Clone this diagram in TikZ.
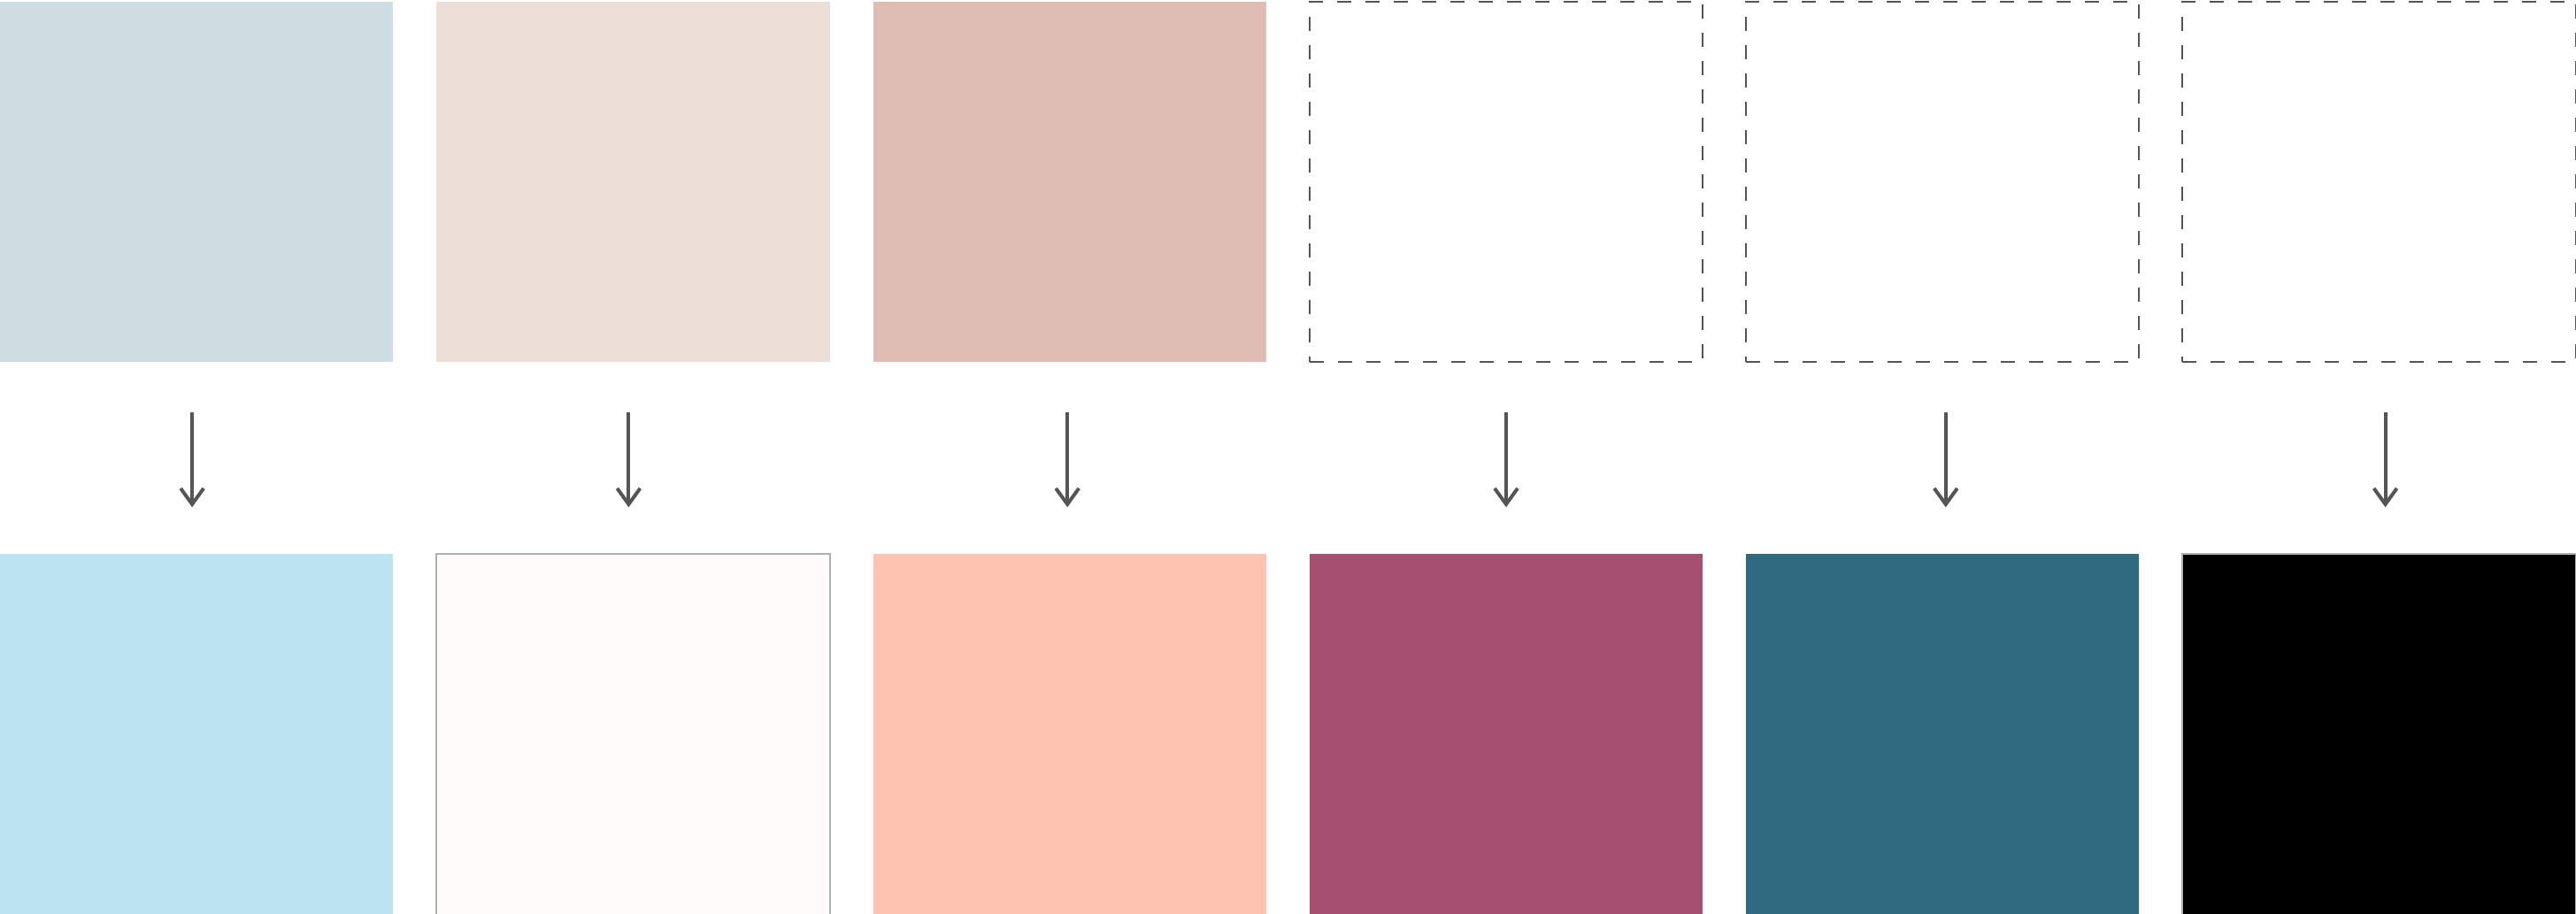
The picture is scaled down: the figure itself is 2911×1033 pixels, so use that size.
\documentclass[tikz,border=0pt]{standalone}
\usepackage{tikz}
\usetikzlibrary{positioning, arrows.meta}
\definecolor{old_mist}{HTML}{CFDEE3}
\definecolor{old_sand}{HTML}{ECDFD8}
\definecolor{old_rose}{HTML}{E0BDB2}
\definecolor{new_sky}{HTML}{BCE3F0}
\definecolor{new_snow}{HTML}{FEFBFA}
\definecolor{new_peach}{HTML}{FEC3B0}
\definecolor{new_berry}{HTML}{A64F6E}
\definecolor{new_teal}{HTML}{2E6A80}
\definecolor{edge_grey}{HTML}{B0B0B0}
\definecolor{line_grey}{HTML}{555555}
\tikzset{
  swatch_size/.style = {minimum width=4.44cm, minimum height=4.07cm},
  swatch/.style = {swatch_size, inner sep=0, outer sep=0},
  empty_slot/.style = {swatch, draw=line_grey, line width=0.02cm, dash pattern=on 0.16cm off 0.16cm},
  framed_swatch/.style = {swatch, draw=edge_grey, line width=0.02cm}
}
\tikzset{
  flow/.style = {draw=line_grey, line width=0.04cm, shorten <=0.57cm, shorten >=0.53cm,
    -{Straight Barb[length=0.18cm, width=0.26cm]}}
}
\begin{document}
\begin{tikzpicture}[x=0.01cm, y=0.01cm, node distance=0.49cm]
        \useasboundingbox (0,0) rectangle (2911,-1033);

        % Current palette
        \node[swatch, fill=old_mist, anchor=north west] at (0,-2) (before_1) {};
        \node[swatch, fill=old_sand, right=of before_1] (before_2) {};
        \node[swatch, fill=old_rose, right=of before_2] (before_3) {};
        \node[empty_slot, right=of before_3] (before_4) {};
        \node[empty_slot, right=of before_4] (before_5) {};
        \node[empty_slot, right=of before_5] (before_6) {};

        % New palette
        \node[swatch, fill=new_sky, below=2.17cm of before_1] (after_1) {};
        \node[framed_swatch, fill=new_snow, below=2.17cm of before_2] (after_2) {};
        \node[swatch, fill=new_peach, below=2.17cm of before_3] (after_3) {};
        \node[swatch, fill=new_berry, below=2.17cm of before_4] (after_4) {};
        \node[swatch, fill=new_teal, below=2.17cm of before_5] (after_5) {};
        \node[framed_swatch, fill=black, below=2.17cm of before_6] (after_6) {};

        % Arrows
        \draw[flow] ([xshift=-0.05cm]before_1.south)--([xshift=-0.05cm]after_1.north);
        \draw[flow] ([xshift=-0.05cm]before_2.south)--([xshift=-0.05cm]after_2.north);
        \draw[flow] ([xshift=-0.025cm]before_3.south)--([xshift=-0.025cm]after_3.north);
        \draw[flow] (before_4.south)--(after_4.north);
        \draw[flow] ([xshift=0.035cm]before_5.south)--([xshift=0.035cm]after_5.north);
        \draw[flow] ([xshift=0.07cm]before_6.south)--([xshift=0.07cm]after_6.north);
\end{tikzpicture}
\end{document}
